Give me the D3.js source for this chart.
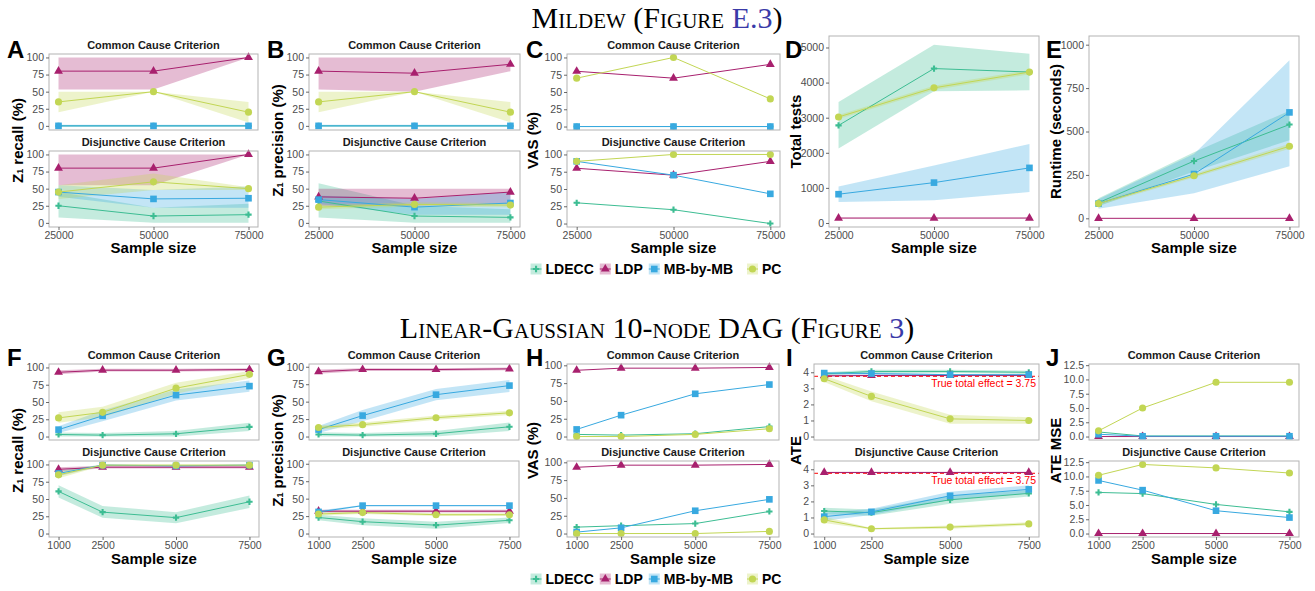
<!DOCTYPE html>
<html>
<head>
<meta charset="utf-8">
<script src="https://cdn.jsdelivr.net/npm/d3@7"></script>
<style>
  body { margin: 0; background: #fff; }
  svg { display: block; font-family: "Liberation Sans", Arial, sans-serif; }
</style>
</head>
<body>
<div id="chart"></div>
<script>
// methods, in plotting order
const methods = ["LDECC", "LDP", "MB-by-MB", "PC"];
const methodColors = ["#3dbd93", "#a8206e", "#38a9e0", "#c2d654"];
const methodShapes = [d3.symbolCross, d3.symbolTriangle, d3.symbolSquare, d3.symbolCircle];

// sample sizes
const mildewSizes = [25000, 50000, 75000];
const gaussSizes = [1000, 2500, 5000, 7500];

// tick labels
const pctTicks = [0, 25, 50, 75, 100];
const testsTicks = [0, 1000, 2000, 3000, 4000, 5000];
const runtimeTicks = [0, 250, 500, 750, 1000];
const ateTicks = [0, 1, 2, 3, 4];
const mseTicks = [0, 2.5, 5, 7.5, 10, 12.5];
const runtimeLimits = [0, 1000];
const ateLimits = [0, 4.3];
const trueEffect = 3.75;

// series rows are LDECC, LDP, MB-by-MB, PC ; null = no ribbon
// --- Mildew ---
const recallMildewCC   = [[0, 0, 0], [80, 80, 100], [0, 0, 0], [35, 50, 20]];
const recallMildewCCLo = [null, [53, 53, 100], [-1, -1, -1], [20, 50, 5]];
const recallMildewCCHi = [null, [100, 100, 100], [1.5, 1.5, 1.5], [50, 50, 35]];
const recallMildewDC   = [[25, 10, 12], [80, 80, 100], [45, 35, 36], [45, 60, 50]];
const recallMildewDCLo = [[8, 0, 0], [55, 55, 100], [38, 22, 22], [35, 48, 48]];
const recallMildewDCHi = [[45, 22, 28], [100, 100, 100], [55, 48, 53], [55, 72, 52]];

const precMildewCC   = [[0, 0, 0], [80, 77, 90], [0, 0, 0], [35, 50, 20]];
const precMildewCCLo = [null, [53, 50, 80], [-1, -1, -1], [20, 50, 5]];
const precMildewCCHi = [null, [100, 100, 100], [1.5, 1.5, 1.5], [50, 50, 35]];
const precMildewDC   = [[32, 10, 8], [38, 36, 45], [34, 23, 29], [23, 27, 26]];
const precMildewDCLo = [[8, 0, 0], [25, 25, 28], [28, 12, 12], [20, 24, 23]];
const precMildewDCHi = [[58, 25, 20], [50, 50, 50], [40, 35, 45], [26, 30, 29]];

const vasMildewCC = [[0, 0, 0], [80, 70, 90], [0, 0, 0], [70, 100, 40]];
const vasMildewDC = [[30, 20, 0], [80, 70, 90], [90, 70, 43], [90, 100, 100]];

const testsMildew   = [[2780, 4400, 4300], [140, 140, 140], [820, 1150, 1570], [3020, 3850, 4300]];
const testsMildewLo = [[2120, 3750, 3780], [133, 133, 133], [600, 650, 880], [2960, 3790, 4240]];
const testsMildewHi = [[3450, 5080, 4820], [147, 147, 147], [1040, 1640, 2250], [3080, 3910, 4360]];

const runtimeMildew   = [[90, 330, 540], [0, 0, 0], [85, 255, 610], [85, 245, 415]];
const runtimeMildewLo = [[70, 270, 450], null, [55, 145, 300], [75, 235, 400]];
const runtimeMildewHi = [[115, 380, 620], null, [110, 370, 910], [95, 255, 430]];

// --- Linear-Gaussian 10-node DAG ---
const recallGaussCC   = [[3, 2, 4, 14], [93, 96, 96, 97], [10, 30, 60, 73], [27, 35, 70, 90]];
const recallGaussCCLo = [[0, 0, 0, 8], [90, 94, 94, 95], [5, 22, 52, 65], [20, 28, 62, 84]];
const recallGaussCCHi = [[6, 5, 8, 20], [96, 98, 98, 99], [15, 38, 68, 81], [35, 43, 78, 95]];
const recallGaussDC   = [[61, 31, 23, 46], [93, 96, 96, 96], [87, 99, 98, 99], [85, 99, 99, 99]];
const recallGaussDCLo = [[52, 23, 15, 37], [90, 94, 94, 94], [83, 98, 97, 98], [80, 98, 98, 98]];
const recallGaussDCHi = [[70, 40, 31, 55], [96, 98, 98, 98], [91, 100, 99, 100], [90, 100, 100, 100]];

const precGaussCC   = [[3, 2, 4, 14], [93, 96, 96, 97], [10, 30, 60, 73], [13, 17, 27, 34]];
const precGaussCCLo = [[0, 0, 0, 8], [90, 94, 94, 95], [5, 22, 52, 64], [10, 14, 24, 31]];
const precGaussCCHi = [[6, 5, 8, 20], [96, 98, 98, 99], [15, 38, 68, 81], [16, 20, 30, 37]];
const precGaussDC   = [[23, 17, 12, 19], [32, 32, 32, 32], [31, 40, 40, 40], [28, 30, 27, 27]];
const precGaussDCLo = [[19, 12, 7, 15], [30, 30, 30, 30], [29, 39, 39, 39], [26, 28, 25, 25]];
const precGaussDCHi = [[27, 22, 17, 23], [34, 34, 34, 34], [33, 41, 41, 41], [30, 32, 29, 29]];

const vasGaussCC = [[3, 2, 4, 14], [93, 96, 96, 97], [10, 30, 60, 73], [0, 0, 3, 11]];
const vasGaussDC = [[9, 11, 14, 31], [93, 96, 96, 97], [2, 8, 32, 48], [0, 0, 0, 3]];

const ateGaussCC   = [[3.9, 4.05, 4.05, 4.0], [3.78, 3.8, 3.8, 3.8], [3.95, 3.92, 3.85, 3.85], [3.6, 2.5, 1.1, 1.0]];
const ateGaussCCLo = [[3.8, 3.95, 3.95, 3.9], [3.72, 3.75, 3.75, 3.75], [3.88, 3.85, 3.8, 3.8], [3.4, 2.2, 0.8, 0.8]];
const ateGaussCCHi = [[4.0, 4.15, 4.15, 4.1], [3.84, 3.85, 3.85, 3.85], [4.02, 3.98, 3.9, 3.9], [3.8, 2.8, 1.35, 1.2]];
const ateGaussDC   = [[1.4, 1.3, 2.1, 2.5], [3.8, 3.8, 3.8, 3.8], [1.05, 1.35, 2.35, 2.75], [0.85, 0.3, 0.4, 0.6]];
const ateGaussDCLo = [[1.2, 1.1, 1.85, 2.3], [3.75, 3.75, 3.75, 3.75], [0.8, 1.15, 2.1, 2.5], [0.65, 0.25, 0.3, 0.5]];
const ateGaussDCHi = [[1.6, 1.5, 2.35, 2.7], [3.85, 3.85, 3.85, 3.85], [1.3, 1.55, 2.6, 3.0], [1.05, 0.35, 0.5, 0.7]];

const mseGaussCC = [[0.8, 0.1, 0.1, 0.1], [0, 0, 0, 0], [0.4, 0.05, 0.05, 0.05], [1.0, 5.0, 9.5, 9.5]];
const mseGaussDC = [[7.2, 7.0, 5.1, 3.8], [0, 0, 0, 0], [9.3, 7.6, 4.0, 2.8], [10.2, 12.1, 11.5, 10.6]];

const noBand = [null, null, null, null];
const CC = "Common Cause Criterion", DC = "Disjunctive Cause Criterion";

const width = 1315, height = 591;
const svg = d3.select("#chart").append("svg")
    .attr("width", width)
    .attr("height", height);

// row geometry
const rows = [
    { facets: [[54, 130], [151, 227]], single: [36, 227], xTitleY: 253, letterY: 58, legendY: 269, sizes: mildewSizes },
    { facets: [[364, 440], [461, 537]], single: [364, 537], xTitleY: 564, letterY: 366, legendY: 579, sizes: gaussSizes }
];

const panels = [
    { label: "A", row: 0, x0: 49, x1: 258, lx: 7, tx: 17, title: ["Z", "1", " recall (%)"], ticks: pctTicks,
      facets: [[CC, recallMildewCC, recallMildewCCLo, recallMildewCCHi], [DC, recallMildewDC, recallMildewDCLo, recallMildewDCHi]] },
    { label: "B", row: 0, x0: 309, x1: 520, lx: 267, tx: 277, title: ["Z", "1", " precision (%)"], ticks: pctTicks,
      facets: [[CC, precMildewCC, precMildewCCLo, precMildewCCHi], [DC, precMildewDC, precMildewDCLo, precMildewDCHi]] },
    { label: "C", row: 0, x0: 567, x1: 780, lx: 526, tx: 532, title: ["VAS (%)"], ticks: pctTicks,
      facets: [[CC, vasMildewCC, noBand, noBand], [DC, vasMildewDC, noBand, noBand]] },
    { label: "D", row: 0, x0: 829, x1: 1039, lx: 785, tx: 795, title: ["Total tests"], ticks: testsTicks,
      facets: [[null, testsMildew, testsMildewLo, testsMildewHi]] },
    { label: "E", row: 0, x0: 1089, x1: 1299, lx: 1046, tx: 1055, title: ["Runtime (seconds)"], ticks: runtimeTicks, limits: runtimeLimits,
      facets: [[null, runtimeMildew, runtimeMildewLo, runtimeMildewHi]] },
    { label: "F", row: 1, x0: 49, x1: 259, lx: 7, tx: 17, title: ["Z", "1", " recall (%)"], ticks: pctTicks,
      facets: [[CC, recallGaussCC, recallGaussCCLo, recallGaussCCHi], [DC, recallGaussDC, recallGaussDCLo, recallGaussDCHi]] },
    { label: "G", row: 1, x0: 309, x1: 519, lx: 267, tx: 277, title: ["Z", "1", " precision (%)"], ticks: pctTicks,
      facets: [[CC, precGaussCC, precGaussCCLo, precGaussCCHi], [DC, precGaussDC, precGaussDCLo, precGaussDCHi]] },
    { label: "H", row: 1, x0: 567, x1: 779, lx: 526, tx: 532, title: ["VAS (%)"], ticks: pctTicks,
      facets: [[CC, vasGaussCC, noBand, noBand], [DC, vasGaussDC, noBand, noBand]] },
    { label: "I", row: 1, x0: 814, x1: 1039, lx: 786, tx: 795, title: ["ATE"], ticks: ateTicks, limits: ateLimits, refLine: trueEffect,
      facets: [[CC, ateGaussCC, ateGaussCCLo, ateGaussCCHi], [DC, ateGaussDC, ateGaussDCLo, ateGaussDCHi]] },
    { label: "J", row: 1, x0: 1089, x1: 1299, lx: 1046, tx: 1055, title: ["ATE MSE"], ticks: mseTicks, fmt: d3.format(".1f"),
      facets: [[CC, mseGaussCC, noBand, noBand], [DC, mseGaussDC, noBand, noBand]] }
];

function expand(dom) {
    var pad = (dom[1] - dom[0]) * 0.05;
    return [dom[0] - pad, dom[1] + pad];
}

function symbolSize(i) {
    return [22, 34, 44, 40][i];
}

function styleAxis(g) {
    g.select(".domain").remove();
    g.selectAll(".tick line").attr("stroke", "#444").attr("stroke-width", 0.8);
    g.selectAll(".tick text").attr("fill", "#4d4d4d").style("font-size", "10.5px");
}

panels.forEach(function (p) {
    var row = rows[p.row];
    var sizes = row.sizes;
    var x = d3.scaleLinear().domain(expand(d3.extent(sizes))).range([p.x0, p.x1]);

    var all = [];
    p.facets.forEach(function (f) {
        [f[1], f[2], f[3]].forEach(function (s) {
            s.forEach(function (arr) { if (arr) all = all.concat(arr); });
        });
    });
    var yDom = expand(p.limits || d3.extent(all));
    var boxes = p.facets.length === 1 ? [row.single] : row.facets;

    p.facets.forEach(function (f, fi) {
        var box = boxes[fi];
        var y = d3.scaleLinear().domain(yDom).range([box[1], box[0]]);
        var g = svg.append("g");
        var mean = f[1], lo = f[2], hi = f[3];

        // ribbons
        methods.forEach(function (m, i) {
            if (!lo[i]) return;
            var area = d3.area()
                .x(function (d, j) { return x(sizes[j]); })
                .y0(function (d, j) { return y(lo[i][j]); })
                .y1(function (d, j) { return y(hi[i][j]); });
            g.append("path")
                .attr("d", area(sizes))
                .attr("fill", methodColors[i])
                .attr("fill-opacity", 0.3);
        });

        // reference line
        if (p.refLine !== undefined) {
            g.append("line")
                .attr("x1", p.x0).attr("x2", p.x1)
                .attr("y1", y(p.refLine)).attr("y2", y(p.refLine))
                .attr("stroke", "#ff0000").attr("stroke-width", 1)
                .attr("stroke-dasharray", "4,3");
            g.append("text")
                .attr("x", p.x1 - 3).attr("y", y(p.refLine) + 11)
                .attr("text-anchor", "end")
                .attr("fill", "#ff0000")
                .style("font-size", "10.5px")
                .text("True total effect = " + p.refLine);
        }

        // lines
        methods.forEach(function (m, i) {
            var line = d3.line()
                .x(function (d, j) { return x(sizes[j]); })
                .y(function (d) { return y(d); });
            g.append("path")
                .attr("d", line(mean[i]))
                .attr("fill", "none")
                .attr("stroke", methodColors[i])
                .attr("stroke-width", 1);
        });

        // points
        methods.forEach(function (m, i) {
            g.selectAll(null)
                .data(mean[i])
                .enter()
                .append("path")
                .attr("d", d3.symbol().type(methodShapes[i]).size(symbolSize(i)))
                .attr("transform", function (d, j) { return "translate(" + x(sizes[j]) + "," + y(d) + ")"; })
                .attr("fill", methodColors[i]);
        });

        // border
        g.append("rect")
            .attr("x", p.x0).attr("y", box[0])
            .attr("width", p.x1 - p.x0).attr("height", box[1] - box[0])
            .attr("fill", "none").attr("stroke", "#b3b3b3").attr("stroke-width", 1);

        // y axis
        var ya = g.append("g")
            .attr("transform", "translate(" + p.x0 + ",0)")
            .call(d3.axisLeft(y).tickValues(p.ticks).tickSize(3).tickPadding(2).tickFormat(p.fmt || d3.format("d")));
        styleAxis(ya);

        // strip title
        if (f[0]) {
            g.append("text")
                .attr("x", (p.x0 + p.x1) / 2).attr("y", box[0] - 5)
                .attr("text-anchor", "middle")
                .style("font-size", "11px").style("font-weight", "bold")
                .attr("fill", "#1a1a1a")
                .text(f[0]);
        }

        // x axis on bottom facet
        if (fi === p.facets.length - 1) {
            var xa = g.append("g")
                .attr("transform", "translate(0," + box[1] + ")")
                .call(d3.axisBottom(x).tickValues(sizes).tickSize(3).tickPadding(2).tickFormat(d3.format("d")));
            styleAxis(xa);
        }
    });

    // x title
    svg.append("text")
        .attr("x", (p.x0 + p.x1) / 2).attr("y", row.xTitleY)
        .attr("text-anchor", "middle")
        .style("font-size", "15px").style("font-weight", "bold")
        .text("Sample size");

    // y title
    var top = boxes[0][0], bottom = boxes[boxes.length - 1][1];
    var yt = svg.append("text")
        .attr("transform", "translate(" + p.tx + "," + ((top + bottom) / 2) + ") rotate(-90)")
        .attr("text-anchor", "middle")
        .attr("dominant-baseline", "central")
        .style("font-size", "15px").style("font-weight", "bold");
    yt.append("tspan").text(p.title[0]);
    if (p.title.length > 1) {
        yt.append("tspan").attr("dy", 3).style("font-size", "9px").text(p.title[1]);
        yt.append("tspan").attr("dy", -3).text(p.title[2]);
    }

    // panel letter
    svg.append("text")
        .attr("x", p.lx).attr("y", row.letterY)
        .style("font-size", "24px").style("font-weight", "bold")
        .text(p.label);
});

// legends
rows.forEach(function (row) {
    var lg = svg.append("g");
    var cx = 0;
    methods.forEach(function (m, i) {
        var item = lg.append("g").attr("transform", "translate(" + cx + ",0)");
        item.append("rect")
            .attr("x", 0).attr("y", -5.5).attr("width", 11).attr("height", 11)
            .attr("fill", methodColors[i]).attr("fill-opacity", 0.3);
        item.append("line")
            .attr("x1", 0).attr("x2", 11).attr("y1", 0).attr("y2", 0)
            .attr("stroke", methodColors[i]).attr("stroke-width", 1);
        item.append("path")
            .attr("d", d3.symbol().type(methodShapes[i]).size(symbolSize(i)))
            .attr("transform", "translate(5.5,0)")
            .attr("fill", methodColors[i]);
        var t = item.append("text")
            .attr("x", 15).attr("y", 0)
            .attr("dominant-baseline", "central")
            .style("font-size", "14px").style("font-weight", "bold")
            .text(m);
        cx += 15 + t.node().getComputedTextLength() + (i === 2 ? 14 : 6);
    });
    var w = cx - 6;
    lg.attr("transform", "translate(" + (656 - w / 2) + "," + row.legendY + ")");
});

// section titles
function sectionTitle(y, before, link) {
    var t = svg.append("text")
        .attr("x", 657).attr("y", y)
        .attr("text-anchor", "middle")
        .style("font-family", "'Liberation Serif', 'Times New Roman', serif")
        .style("font-variant", "small-caps")
        .style("font-size", "30px");
    t.append("tspan").text(before);
    t.append("tspan").attr("fill", "#3a3aa8").text(link);
    t.append("tspan").text(")");
}
sectionTitle(28, "Mildew (Figure ", "E.3");
sectionTitle(338, "Linear-Gaussian 10-node DAG (Figure ", "3");
</script>
</body>
</html>
